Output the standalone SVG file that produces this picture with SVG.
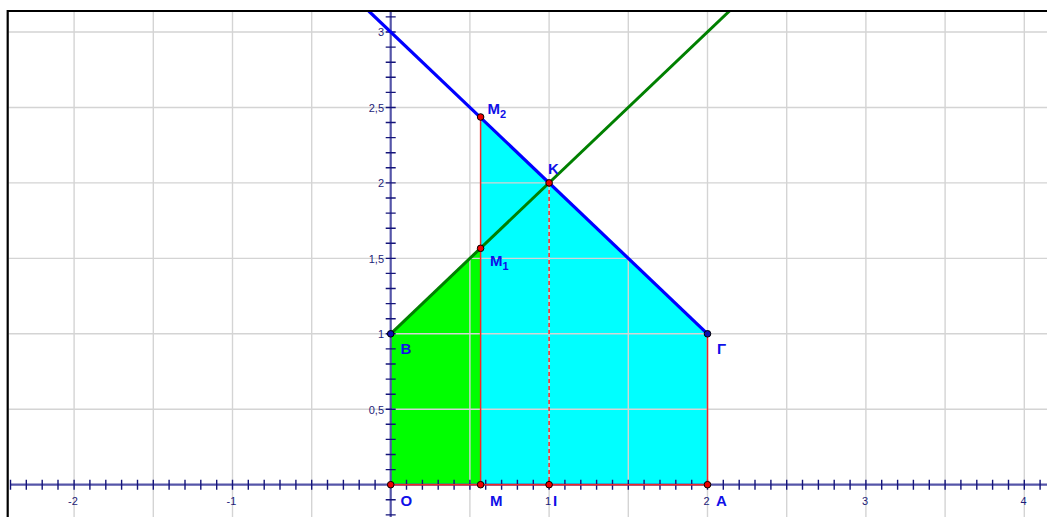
<svg xmlns="http://www.w3.org/2000/svg" width="1047" height="517" viewBox="0 0 1047 517">
<style>
.grid{stroke:#d4d4d4;stroke-width:1.4;fill:none}
.axis{stroke:#5555a8;stroke-width:2.2;fill:none}
.tick{stroke:#14147a;stroke-width:1.4}
.num{font-family:"Liberation Sans",Arial,sans-serif;font-size:11px;fill:#1c1c78}
.lbl{font-family:"Liberation Sans",Arial,sans-serif;font-size:15px;font-weight:bold;fill:#1010e8}
.sub{font-size:11px}
.seg{stroke:#f02828;stroke-width:1.5;fill:none}
.ptr{fill:#ee0000;stroke:#000;stroke-width:1}
.ptb{fill:#1010b0;stroke:#000;stroke-width:1}
</style>
<defs>
<clipPath id="frame"><rect x="8.7" y="12" width="1040" height="510"/></clipPath>
</defs>
<rect x="0" y="0" width="1047" height="517" fill="#ffffff"/>
<g clip-path="url(#frame)">
<g id="fills">
<polygon points="390.7,484.7 390.7,333.8 480.6,248.3 480.6,484.7" fill="#00ff00"/>
<polygon points="480.6,484.7 480.6,117 707.5,333.8 707.5,484.7" fill="#00ffff"/>
</g>
<g id="grid" class="grid">
<path d="M74.1,0V517M153.3,0V517M232.5,0V517M311.7,0V517M469.9,0V517M549.1,0V517M628.3,0V517M707.5,0V517M786.7,0V517M865.9,0V517M945.1,0V517M1024.3,0V517"/>
<path d="M0,409.25H1047M0,333.8H1047M0,258.35H1047M0,182.9H1047M0,107.45H1047M0,32H1047"/>
</g>
<g id="axes">
<line class="axis" x1="10" y1="484.7" x2="1047" y2="484.7"/>
<line class="axis" x1="390.7" y1="11" x2="390.7" y2="517"/>
<path class="tick" d="M10.5,479.7v10M26.3,479.7v10M42.2,479.7v10M58.0,479.7v10M74.1,479.7v10M89.9,479.7v10M105.8,479.7v10M121.6,479.7v10M137.5,479.7v10M153.3,479.7v10M169.1,479.7v10M185.0,479.7v10M200.8,479.7v10M216.7,479.7v10M232.5,479.7v10M248.3,479.7v10M264.2,479.7v10M280.0,479.7v10M295.9,479.7v10M311.7,479.7v10M327.5,479.7v10M343.4,479.7v10M359.2,479.7v10M375.1,479.7v10M406.5,479.7v10M422.4,479.7v10M438.2,479.7v10M454.1,479.7v10M469.9,479.7v10M485.7,479.7v10M501.6,479.7v10M517.4,479.7v10M533.3,479.7v10M549.1,479.7v10M564.9,479.7v10M580.8,479.7v10M596.6,479.7v10M612.5,479.7v10M628.3,479.7v10M644.1,479.7v10M660.0,479.7v10M675.8,479.7v10M691.7,479.7v10M707.5,479.7v10M723.3,479.7v10M739.2,479.7v10M755.0,479.7v10M770.9,479.7v10M786.7,479.7v10M802.5,479.7v10M818.4,479.7v10M834.2,479.7v10M850.1,479.7v10M865.9,479.7v10M881.7,479.7v10M897.6,479.7v10M913.4,479.7v10M929.3,479.7v10M945.1,479.7v10M960.9,479.7v10M976.8,479.7v10M992.6,479.7v10M1008.5,479.7v10M1024.3,479.7v10M1040.1,479.7v10"/>
<path class="tick" d="M385.7,514.9h10M385.7,499.8h10M385.7,469.6h10M385.7,454.5h10M385.7,439.4h10M385.7,424.3h10M385.7,409.25h10M385.7,394.2h10M385.7,379.1h10M385.7,364.0h10M385.7,348.9h10M385.7,333.8h10M385.7,318.7h10M385.7,303.6h10M385.7,288.5h10M385.7,273.4h10M385.7,258.35h10M385.7,243.3h10M385.7,228.2h10M385.7,213.1h10M385.7,198.0h10M385.7,182.9h10M385.7,167.8h10M385.7,152.7h10M385.7,137.6h10M385.7,122.5h10M385.7,107.45h10M385.7,92.4h10M385.7,77.3h10M385.7,62.2h10M385.7,47.1h10M385.7,32h10M385.7,16.9h10"/>
</g>
<g id="numbers" class="num">
<text x="73" y="505" text-anchor="middle">-2</text>
<text x="231.5" y="505" text-anchor="middle">-1</text>
<text x="548" y="505" text-anchor="middle">1</text>
<text x="706.5" y="505" text-anchor="middle">2</text>
<text x="865" y="505" text-anchor="middle">3</text>
<text x="1023.5" y="505" text-anchor="middle">4</text>
<text x="384" y="36" text-anchor="end">3</text>
<text x="384" y="111.5" text-anchor="end">2,5</text>
<text x="384" y="187" text-anchor="end">2</text>
<text x="384" y="262.5" text-anchor="end">1,5</text>
<text x="384" y="338" text-anchor="end">1</text>
<text x="384" y="413.5" text-anchor="end">0,5</text>
</g>
<g id="connectors">
<line class="seg" x1="390.7" y1="484.7" x2="707.5" y2="484.7"/>
<line class="seg" x1="480.6" y1="484.7" x2="480.6" y2="117"/>
<line class="seg" x1="707.5" y1="484.7" x2="707.5" y2="333.8"/>
<line class="seg" x1="549.1" y1="182.9" x2="549.1" y2="484.7" stroke-dasharray="4,3"/>
<line x1="390.7" y1="333.8" x2="729.5" y2="11" stroke="#008000" stroke-width="3"/>
<line x1="368.7" y1="11" x2="707.5" y2="333.8" stroke="#0000ff" stroke-width="3.2"/>
</g>
</g>
<g id="frame-border" fill="none" stroke="#000" stroke-width="2.2">
<path d="M7.7,517V11H1047"/>
</g>
<g id="node-O"><circle class="ptr" cx="390.7" cy="484.7" r="3.3"/><text class="lbl" x="400.5" y="505.5">O</text></g>
<g id="node-B"><circle class="ptb" cx="390.7" cy="333.8" r="3.3"/><text class="lbl" x="400.5" y="353.5">B</text></g>
<g id="node-M"><circle class="ptr" cx="480.6" cy="484.7" r="3.3"/><text class="lbl" x="490" y="505.5">M</text></g>
<g id="node-M1"><circle class="ptr" cx="480.6" cy="248.3" r="3.3"/><text class="lbl" x="490" y="266">M<tspan class="sub" dy="4">1</tspan></text></g>
<g id="node-M2"><circle class="ptr" cx="480.6" cy="117" r="3.3"/><text class="lbl" x="487.5" y="113.5">M<tspan class="sub" dy="4">2</tspan></text></g>
<g id="node-K"><circle class="ptr" cx="549.1" cy="182.9" r="3.3"/><text class="lbl" x="548" y="173.5">K</text></g>
<g id="node-I"><circle class="ptr" cx="549.1" cy="484.7" r="3.3"/><text class="lbl" x="553" y="505.5">I</text></g>
<g id="node-Gamma"><circle class="ptb" cx="707.5" cy="333.8" r="3.3"/><text class="lbl" x="717" y="353.5">Γ</text></g>
<g id="node-A"><circle class="ptr" cx="707.5" cy="484.7" r="3.3"/><text class="lbl" x="716" y="505.5">A</text></g>
</svg>
